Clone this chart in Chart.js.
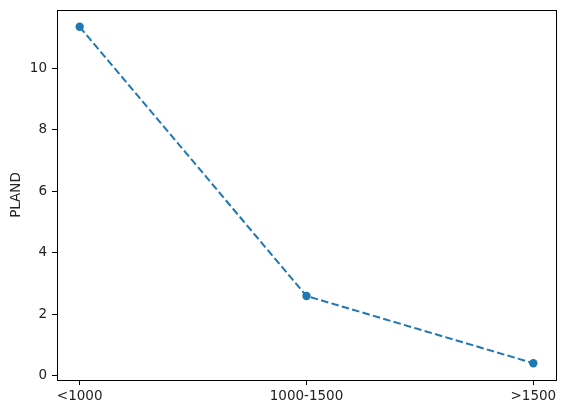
<!DOCTYPE html>
<html>
<head>
<meta charset="utf-8">
<script src="https://cdn.jsdelivr.net/npm/chart.js@4"></script>
<style>
  html, body { margin: 0; padding: 0; background: #fff; }
</style>
</head>
<body>
<canvas id="myChart" width="564" height="413"></canvas>
<script>
// values
var categories = ['<1000', '1000-1500', '>1500']
var pland = [11.36, 2.59, 0.40]
var yTicks = [0, 2, 4, 6, 8, 10]

var points = pland.map(function (v, i) { return { x: i, y: v } })

// black box round the plot area, like matplotlib spines
var frame = {
    id: 'frame',
    afterDraw: function (chart) {
        var a = chart.chartArea
        var c = chart.ctx
        c.save()
        c.strokeStyle = '#000'
        c.lineWidth = 1
        c.strokeRect(Math.round(a.left) + 0.5, Math.round(a.top) + 0.5,
            Math.round(a.right - a.left), Math.round(a.bottom - a.top))
        c.restore()
    }
}

var ctx = document.getElementById('myChart')
var myChart = new Chart(ctx, {
    type: 'line',
    data: {
        datasets: [{
            label: 'PLAND',
            data: points,
            borderColor: '#1f77b4',
            backgroundColor: '#1f77b4',
            borderWidth: 2,
            borderDash: [7.5, 3.3],
            pointRadius: 4.2,
            pointHoverRadius: 4.2,
            pointBorderWidth: 0,
            tension: 0,
            fill: false
        }]
    },
    plugins: [frame],
    options: {
        responsive: false,
        animation: false,
        events: [],
        layout: { padding: { top: 10, right: 8, left: 0, bottom: 0 } },
        plugins: {
            legend: { display: false },
            tooltip: { enabled: false }
        },
        scales: {
            x: {
                type: 'linear',
                min: -0.1,
                max: 2.1,
                afterBuildTicks: function (s) {
                    s.ticks = categories.map(function (c, i) { return { value: i } })
                },
                afterFit: function (s) { s.height = 33; s.paddingLeft = 0; s.paddingRight = 0 },
                grid: { drawOnChartArea: false, color: '#000', tickLength: 5, tickWidth: 1 },
                border: { color: '#000', width: 1 },
                ticks: {
                    padding: 3,
                    color: '#222',
                    maxRotation: 0,
                    font: { family: 'DejaVu Sans', size: 13.5 },
                    callback: function (v) { return categories[v] }
                }
            },
            y: {
                type: 'linear',
                min: -0.148,
                max: 11.908,
                afterBuildTicks: function (s) {
                    s.ticks = yTicks.map(function (v) { return { value: v } })
                },
                afterFit: function (s) { s.width = 57; s.paddingTop = 0; s.paddingBottom = 0 },
                grid: { drawOnChartArea: false, color: '#000', tickLength: 5, tickWidth: 1 },
                border: { color: '#000', width: 1 },
                title: {
                    display: true,
                    text: 'PLAND',
                    color: '#222',
                    font: { family: 'DejaVu Sans', size: 13.5 },
                    padding: { top: 8, bottom: 0 }
                },
                ticks: {
                    padding: 5,
                    color: '#222',
                    font: { family: 'DejaVu Sans', size: 13.5 }
                }
            }
        }
    }
})
</script>
</body>
</html>
